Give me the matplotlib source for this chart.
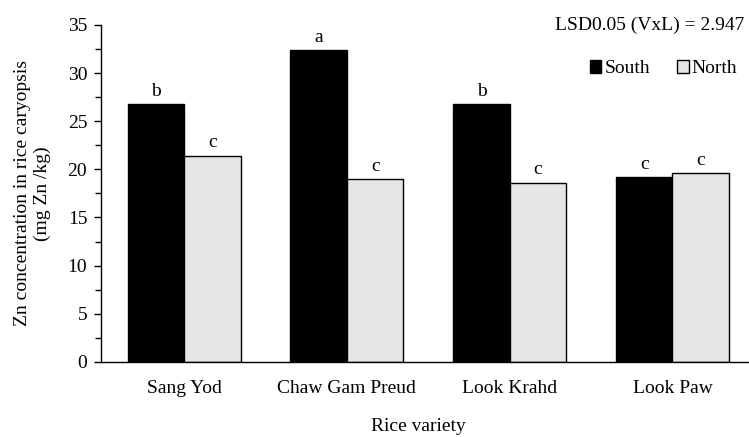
import matplotlib
matplotlib.use("Agg")
import matplotlib.pyplot as plt
import numpy as np

varieties = ["Sang Yod", "Chaw Gam Preud", "Look Krahd", "Look Paw"]
south = [26.8, 32.4, 26.8, 19.2]
north = [21.4, 19.0, 18.6, 19.6]
south_letters = ["b", "a", "b", "c"]
north_letters = ["c", "c", "c", "c"]

plt.rcParams["font.family"] = ["Liberation Serif", "DejaVu Serif"]
plt.rcParams["font.size"] = 14

fig = plt.figure(figsize=(7.49, 4.37), dpi=100)
ax = fig.add_axes([0.135, 0.172, 0.865, 0.771])

x = np.arange(len(varieties))
w = 0.347
ax.bar(x - w / 2, south, w, color="black", edgecolor="black", linewidth=1, label="South")
ax.bar(x + w / 2, north, w, color="#e6e6e6", edgecolor="black", linewidth=1, label="North")

for i in range(len(varieties)):
    ax.text(x[i] - w / 2, south[i] + 0.45, south_letters[i], ha="center", va="bottom")
    ax.text(x[i] + w / 2, north[i] + 0.45, north_letters[i], ha="center", va="bottom")

ax.set_xlim(-0.51, 3.47)
ax.set_ylim(0, 35)
ax.set_yticks(np.arange(0, 36, 5))
ax.set_yticks(np.arange(0, 35, 2.5), minor=True)
ax.set_xticks(x)
ax.set_xticklabels(varieties)
ax.tick_params(axis="x", length=0, pad=13)
ax.tick_params(axis="y", which="major", direction="out", length=5, width=1, pad=5)
ax.tick_params(axis="y", which="minor", direction="out", length=4, width=1)

for s in ["top", "right"]:
    ax.spines[s].set_visible(False)
ax.spines["left"].set_linewidth(1)
ax.spines["bottom"].set_linewidth(1)

ax.set_ylabel("Zn concentration in rice caryopsis\n(mg Zn /kg)", labelpad=12)
ax.set_xlabel("Rice variety")
ax.xaxis.set_label_coords(0.49, -0.217)
ax.xaxis.label.set_va("bottom")

ax.legend(loc="upper right", bbox_to_anchor=(1.0, 0.93), ncol=2, frameon=False,
          handlelength=0.6, handleheight=0.6, handletextpad=0.15, columnspacing=1.4,
          borderaxespad=0.2)
ax.text(0.993, 1.0, "LSD0.05 (VxL) = 2.947", transform=ax.transAxes, ha="right",
        va="center")

fig.savefig("out.png", dpi=100)
